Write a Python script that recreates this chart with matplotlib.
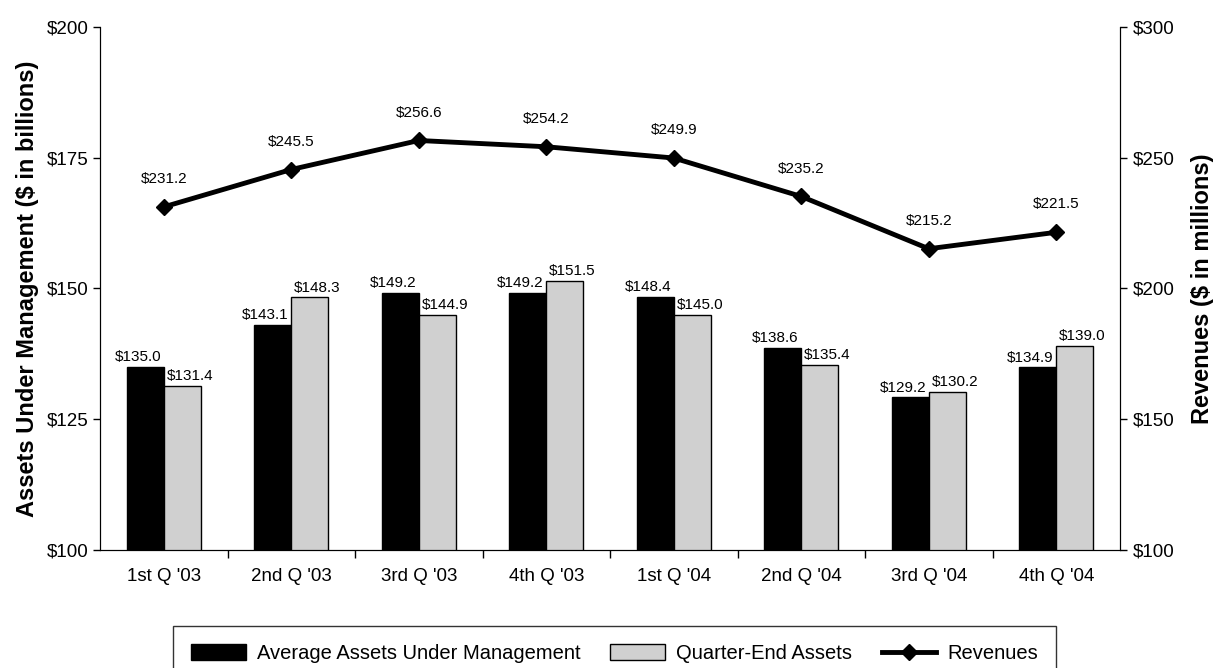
import matplotlib
matplotlib.use("Agg")
import matplotlib.pyplot as plt
import numpy as np
from matplotlib.ticker import FixedLocator

plt.rcParams['font.family'] = ['Liberation Sans', 'DejaVu Sans']

categories = ["1st Q '03", "2nd Q '03", "3rd Q '03", "4th Q '03",
              "1st Q '04", "2nd Q '04", "3rd Q '04", "4th Q '04"]
avg_assets = [135.0, 143.1, 149.2, 149.2, 148.4, 138.6, 129.2, 134.9]
qe_assets = [131.4, 148.3, 144.9, 151.5, 145.0, 135.4, 130.2, 139.0]
revenues = [231.2, 245.5, 256.6, 254.2, 249.9, 235.2, 215.2, 221.5]
left_ticks = [100, 125, 150, 175, 200]
right_ticks = [100, 150, 200, 250, 300]

fig = plt.figure(figsize=(12.21, 6.68), dpi=100)
ax = fig.add_axes([100/1221, 1-550/668, 1020/1221, 523/668])
x = np.arange(len(categories))
w = 0.29

b1 = ax.bar(x - w/2, avg_assets, w, color='black', edgecolor='black', linewidth=1,
            label='Average Assets Under Management', zorder=2)
b2 = ax.bar(x + w/2, qe_assets, w, color='#d0d0d0', edgecolor='black', linewidth=1,
            label='Quarter-End Assets', zorder=2)
for xi, v in zip(x, avg_assets):
    ax.annotate(f"${v:.1f}", (xi, v), xytext=(-2, 2), textcoords='offset points',
                ha='right', va='bottom', fontsize=11)
for xi, v in zip(x, qe_assets):
    ax.annotate(f"${v:.1f}", (xi, v), xytext=(2, 2), textcoords='offset points',
                ha='left', va='bottom', fontsize=11)

ax.set_xlim(-0.5, len(categories) - 0.5)
ax.set_ylim(100, 200)
ax.set_yticks(left_ticks)
ax.set_yticklabels([f"${t}" for t in left_ticks], fontsize=13.5)
ax.set_xticks(x)
ax.set_xticklabels(categories, fontsize=13.5)
ax.xaxis.set_minor_locator(FixedLocator(np.arange(0.5, len(categories) - 0.5, 1)))
ax.tick_params(axis='x', which='major', length=0, pad=13)
ax.tick_params(axis='x', which='minor', length=6, direction='out', width=1)
ax.tick_params(axis='y', length=5, width=1, direction='out', pad=3)
ax.spines['top'].set_visible(False)
ax.set_ylabel('Assets Under Management ($ in billions)', fontsize=17, fontweight='bold', labelpad=6)

ax2 = ax.twinx()
ln, = ax2.plot(x, revenues, color='black', linewidth=3.5, marker='D', markersize=8,
               label='Revenues', zorder=3)
for xi, v in zip(x, revenues):
    ax2.text(xi, v + 8, f"${v:.1f}", ha='center', va='bottom', fontsize=11)
ax2.set_ylim(100, 300)
ax2.set_yticks(right_ticks)
ax2.set_yticklabels([f"${t}" for t in right_ticks], fontsize=13.5)
ax2.tick_params(axis='y', length=5, width=1, direction='out', pad=4)
ax2.spines['top'].set_visible(False)
ax2.set_ylabel('Revenues ($ in millions)', fontsize=17, fontweight='bold', labelpad=12)

leg = fig.legend([b1, b2, ln], ['Average Assets Under Management', 'Quarter-End Assets', 'Revenues'],
                 loc='upper left', bbox_to_anchor=(173/1221, 1-626/668), ncol=3,
                 frameon=True, fancybox=False, edgecolor='black', fontsize=14.5,
                 handlelength=2.7, handleheight=0.8, handletextpad=0.55,
                 columnspacing=1.5, borderpad=0.9, borderaxespad=0)
leg.get_frame().set_linewidth(1)

fig.savefig('out.png', dpi=100)
